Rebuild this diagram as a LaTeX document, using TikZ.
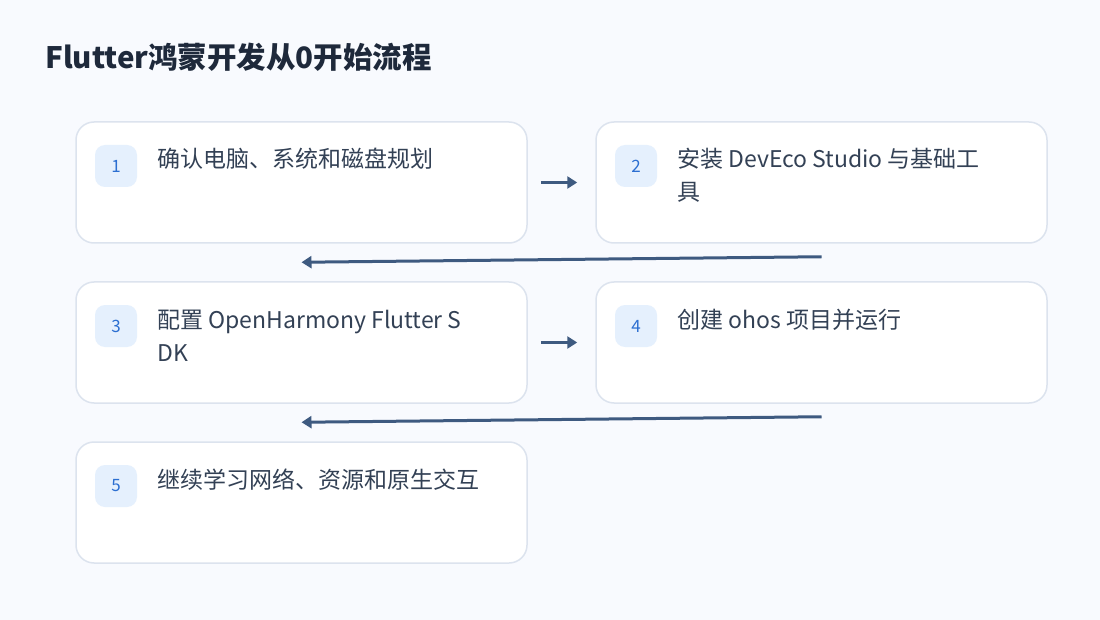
\documentclass[tikz,border=0pt]{standalone}
\usepackage{fontspec}
\setmainfont{Noto Sans CJK SC}
\usetikzlibrary{arrows.meta}
\pgfdeclarelayer{bglayer}
\pgfdeclarelayer{edgelayer}
\pgfdeclarelayer{nodelayer}
\pgfsetlayers{bglayer,edgelayer,nodelayer,main}
\definecolor{pagebg}{HTML}{F8FAFE}
\definecolor{boxline}{HTML}{DCE3EE}
\definecolor{badgefill}{HTML}{E5F0FD}
\definecolor{badgetext}{HTML}{2C6FD1}
\definecolor{bodytext}{HTML}{334155}
\definecolor{titletext}{HTML}{1E293B}
\definecolor{flowline}{HTML}{3E5A80}
\tikzstyle{stepbox}=[draw=boxline, line width=1.5pt, fill=white, rounded corners=18pt, minimum width=451pt, minimum height=121pt]
\tikzstyle{badge}=[fill=badgefill, rounded corners=10pt, minimum size=42pt, inner sep=0pt, text=badgetext, font=\fontsize{17}{17}\selectfont]
\tikzstyle{steptext}=[anchor=base west, align=left, inner sep=0pt, text=bodytext, font=\fontsize{23}{33}\selectfont]
\tikzstyle{flow}=[draw=flowline, line width=3pt, -{Triangle[length=10pt,width=12pt]}]

\begin{document}
\begin{tikzpicture}[x=1pt, y=-1pt]
	\begin{pgfonlayer}{bglayer}
		\fill [pagebg] (0, 0) rectangle (1100, 620);
	\end{pgfonlayer}
	\begin{pgfonlayer}{nodelayer}
		\node [anchor=west, inner sep=0pt, text=titletext, font=\fontsize{29.5}{29.5}\selectfont\bfseries] (title) at (45, 57) {Flutter鸿蒙开发从0开始流程};
		\node [style=stepbox] (1) at (301.5, 182.5) {};
		\node [style=stepbox] (2) at (821.5, 182.5) {};
		\node [style=stepbox] (3) at (301.5, 342.5) {};
		\node [style=stepbox] (4) at (821.5, 342.5) {};
		\node [style=stepbox] (5) at (301.5, 502.5) {};
		\node [style=badge] (n1) at (116, 166) {1};
		\node [style=badge] (n2) at (636, 166) {2};
		\node [style=badge] (n3) at (116, 326) {3};
		\node [style=badge] (n4) at (636, 326) {4};
		\node [style=badge] (n5) at (116, 486) {5};
		% two-line labels sit on the baseline of their last line
		\node [style=steptext] (t1) at (157, 168) {确认电脑、系统和磁盘规划};
		\node [style=steptext] (t2) at (677, 201) {安装 DevEco Studio 与基础工\\具};
		\node [style=steptext] (t3) at (157, 361) {配置 OpenHarmony Flutter S\\DK};
		\node [style=steptext] (t4) at (677, 328) {创建 ohos 项目并运行};
		\node [style=steptext] (t5) at (157, 488) {继续学习网络、资源和原生交互};
	\end{pgfonlayer}
	\begin{pgfonlayer}{edgelayer}
		\draw [style=flow] ([xshift=13pt]1.east) to ([xshift=-18pt]2.west);
		\draw [style=flow] ([yshift=-13pt]2.south) to ([yshift=19pt]3.north);
		\draw [style=flow] ([xshift=13pt]3.east) to ([xshift=-18pt]4.west);
		\draw [style=flow] ([yshift=-13pt]4.south) to ([yshift=19pt]5.north);
	\end{pgfonlayer}
\end{tikzpicture}
\end{document}
